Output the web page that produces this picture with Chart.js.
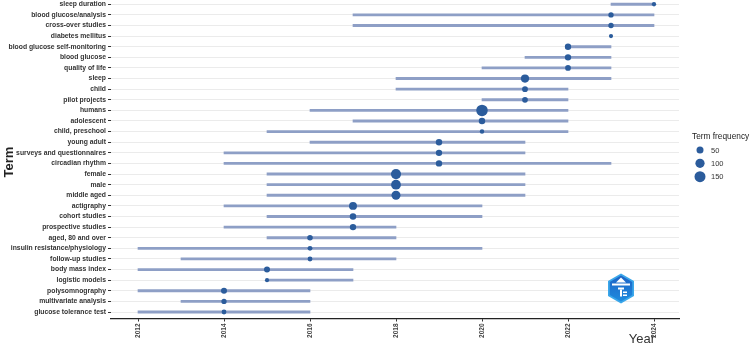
<!DOCTYPE html>
<html>
<head>
<meta charset="utf-8">
<script src="https://cdn.jsdelivr.net/npm/chart.js@4.4.1/dist/chart.umd.min.js"></script>
<style>
    html, body { margin: 0; padding: 0; background: #ffffff; }
    #wrap { width: 750px; height: 347px; position: relative; }
</style>
</head>
<body>
<div id="wrap"><canvas id="trend"></canvas></div>
<script>
// Trend topics: first quartile, median and third quartile year per term
const terms = [
    "sleep duration", "blood glucose/analysis", "cross-over studies", "diabetes mellitus",
    "blood glucose self-monitoring", "blood glucose", "quality of life", "sleep", "child",
    "pilot projects", "humans", "adolescent", "child, preschool", "young adult",
    "surveys and questionnaires", "circadian rhythm", "female", "male", "middle aged",
    "actigraphy", "cohort studies", "prospective studies", "aged, 80 and over",
    "insulin resistance/physiology", "follow-up studies", "body mass index",
    "logistic models", "polysomnography", "multivariate analysis", "glucose tolerance test"
];
const q1Years     = [2023, 2017, 2017, 2023, 2022, 2021, 2020, 2018, 2018, 2020, 2016, 2017, 2015, 2016, 2014, 2014, 2015, 2015, 2015, 2014, 2015, 2014, 2015, 2012, 2013, 2012, 2015, 2012, 2013, 2012];
const medianYears = [2024, 2023, 2023, 2023, 2022, 2022, 2022, 2021, 2021, 2021, 2020, 2020, 2020, 2019, 2019, 2019, 2018, 2018, 2018, 2017, 2017, 2017, 2016, 2016, 2016, 2015, 2015, 2014, 2014, 2014];
const q3Years     = [2024, 2024, 2024, 2023, 2023, 2023, 2023, 2023, 2022, 2022, 2022, 2022, 2022, 2021, 2021, 2023, 2021, 2021, 2021, 2020, 2020, 2018, 2018, 2020, 2018, 2017, 2017, 2016, 2016, 2016];
const termFreq    = [8, 22, 22, 6, 38, 38, 28, 75, 28, 28, 165, 40, 10, 40, 38, 38, 125, 115, 95, 70, 40, 38, 25, 15, 15, 32, 6, 32, 20, 14];
const yearTicks = [2012, 2014, 2016, 2018, 2020, 2022, 2024];
const legendFreqs = [50, 100, 150];

const FONT = "'Liberation Sans', Arial, sans-serif";
const DOT = '#2b5c9c';
const SEG = '#8e9fc6';

// point area grows linearly with frequency
function radiusFor(f) {
    return Math.sqrt(3.25 + 0.18 * f);
}

// pin the scales so rows and years land where the original plot has them.
// the top row sits right at the edge, keep it just inside so its dot still draws
const pinScales = {
    id: 'pinScales',
    afterLayout(chart) {
        const ys = chart.scales.y;
        const firstRow = Math.max(3, ys.top - radiusFor(termFreq[0]) + 0.7);
        const lastRow = 312;
        const rowStep = (lastRow - firstRow) / (terms.length - 1);
        ys.min = (ys.top - firstRow) / rowStep;
        ys.max = ys.min + (ys.bottom - ys.top) / rowStep;
        ys.configure();

        const xs = chart.scales.x;
        const yearStep = (654 - 138) / 12;
        xs.min = 2012 - (138 - xs.left) / yearStep;
        xs.max = xs.min + (xs.right - xs.left) / yearStep;
        xs.configure();
    }
};

// legend, axis title and logo
const extrasPlugin = {
    id: 'extras',
    afterDraw(chart) {
        const ctx = chart.ctx;
        ctx.save();

        ctx.fillStyle = '#333';
        ctx.font = '13px ' + FONT;
        ctx.textAlign = 'right';
        ctx.textBaseline = 'alphabetic';
        ctx.fillText('Year', 655, 343);

        ctx.textAlign = 'left';
        ctx.fillStyle = '#222';
        ctx.font = '8.3px ' + FONT;
        ctx.fillText('Term frequency', 692, 139);
        const ys = [150, 163.3, 176.7];
        legendFreqs.forEach((f, i) => {
            ctx.beginPath();
            ctx.fillStyle = DOT;
            ctx.arc(700, ys[i], radiusFor(f), 0, Math.PI * 2);
            ctx.fill();
            ctx.fillStyle = '#333';
            ctx.font = '7.5px ' + FONT;
            ctx.textBaseline = 'middle';
            ctx.fillText(String(f), 711, ys[i] + 0.5);
        });

        // hexagon logo
        const cx = 621, cy = 288.5, r = 15;
        const hex = (rad) => {
            ctx.beginPath();
            for (let k = 0; k < 6; k++) {
                const a = Math.PI / 3 * k - Math.PI / 2;
                const px = cx + rad * Math.cos(a), py = cy + rad * Math.sin(a);
                if (k === 0) ctx.moveTo(px, py); else ctx.lineTo(px, py);
            }
            ctx.closePath();
        };
        hex(r);
        ctx.fillStyle = '#3aa7ea';
        ctx.fill();
        hex(r - 2);
        const g = ctx.createLinearGradient(cx, cy - r, cx, cy + r);
        g.addColorStop(0, '#1d5fc4');
        g.addColorStop(1, '#1f8fe0');
        ctx.fillStyle = g;
        ctx.fill();
        ctx.fillStyle = '#ffffff';
        ctx.fillRect(cx - 9, cy - 5, 18, 2);
        ctx.beginPath();
        ctx.moveTo(cx - 5, cy - 6);
        ctx.lineTo(cx, cy - 11);
        ctx.lineTo(cx + 5, cy - 6);
        ctx.closePath();
        ctx.fill();
        ctx.fillRect(cx - 3, cy - 1, 6, 2);
        ctx.fillRect(cx - 1, cy + 1, 2, 7);
        ctx.fillRect(cx + 2, cy + 3, 4, 1.5);
        ctx.fillRect(cx + 2, cy + 6, 4, 1.5);
        ctx.restore();
    }
};

new Chart(document.getElementById('trend'), {
    type: 'bar',
    data: {
        datasets: [
            {
                // median year, sized by frequency
                type: 'scatter',
                order: 0,
                clip: false,
                showLine: false,
                borderWidth: 0,
                data: terms.map((t, i) => ({ x: medianYears[i], y: i })),
                pointRadius: termFreq.map(radiusFor),
                pointHoverRadius: termFreq.map(radiusFor),
                pointBackgroundColor: DOT,
                pointBorderWidth: 0
            },
            {
                // Q1 - Q3 span
                type: 'bar',
                order: 1,
                indexAxis: 'y',
                clip: false,
                data: terms.map((t, i) => ({ x: [q1Years[i], q3Years[i]], y: i })),
                backgroundColor: SEG,
                borderWidth: 0,
                barThickness: 2.2,
                grouped: false
            }
        ]
    },
    options: {
        responsive: true,
        maintainAspectRatio: false,
        animation: false,
        devicePixelRatio: 1,
        layout: { padding: { left: 0, right: 71, top: 0, bottom: 0 } },
        plugins: {
            legend: { display: false },
            tooltip: { enabled: false }
        },
        scales: {
            x: {
                type: 'linear',
                position: 'bottom',
                offset: false,
                min: 2011.37,
                max: 2024.58,
                border: { display: true, color: '#222', width: 1.2 },
                grid: { offset: false, drawOnChartArea: false, drawTicks: true, tickLength: 3, tickColor: '#333' },
                afterBuildTicks: (s) => { s.ticks = yearTicks.map(v => ({ value: v })); },
                ticks: {
                    autoSkip: false,
                    minRotation: 90,
                    maxRotation: 90,
                    padding: 2,
                    color: '#444',
                    font: { family: FONT, size: 6.5, weight: 'bold' },
                    callback: (v) => String(v)
                },
                afterFit: (s) => { s.height = 28.5; s.paddingLeft = 0; s.paddingRight = 0; }
            },
            y: {
                type: 'linear',
                position: 'left',
                reverse: true,
                offset: false,
                min: -0.28,
                max: 29.61,
                border: { display: false },
                grid: { offset: false, color: '#ebebeb', lineWidth: 1, drawTicks: true, tickLength: 3, tickColor: '#333' },
                afterBuildTicks: (s) => { s.ticks = terms.map((t, i) => ({ value: i })); },
                ticks: {
                    autoSkip: false,
                    padding: 2,
                    color: '#333',
                    font: { family: FONT, size: 6.8, weight: 'bold' },
                    callback: (v) => terms[v]
                },
                title: {
                    display: true,
                    text: 'Term',
                    color: '#222',
                    font: { family: FONT, size: 13, weight: 'bold' },
                    padding: { top: 2, bottom: 0 }
                },
                afterFit: (s) => { s.width = 111; s.paddingTop = 0; s.paddingBottom = 0; }
            }
        }
    },
    plugins: [pinScales, extrasPlugin]
});
</script>
</body>
</html>
